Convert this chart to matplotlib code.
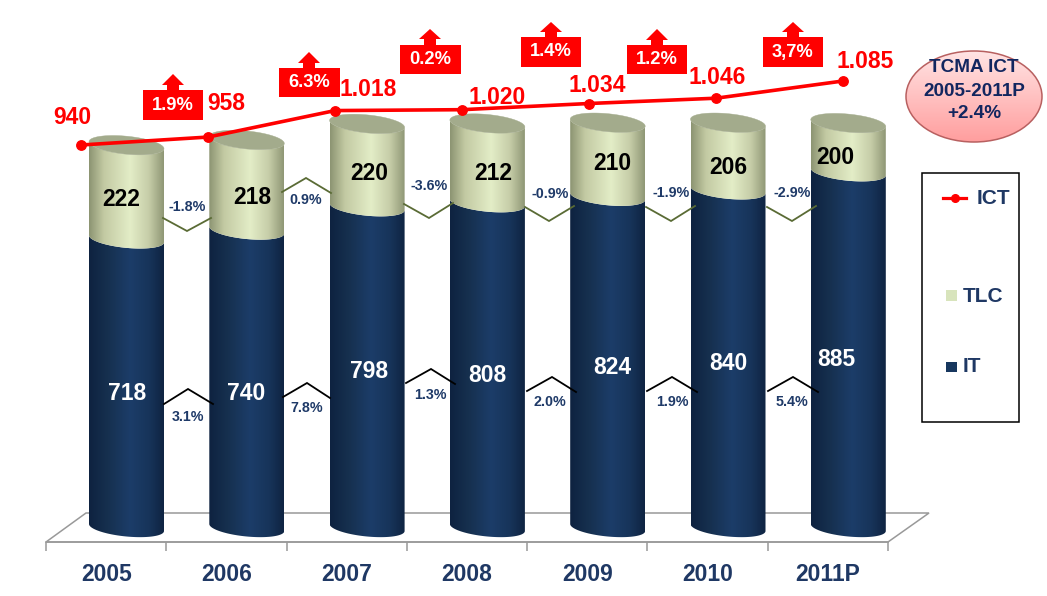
import numpy as np
import matplotlib
matplotlib.use("Agg")
import matplotlib.pyplot as plt
from matplotlib.colors import LinearSegmentedColormap
from matplotlib.patches import Polygon, Rectangle, Ellipse
from matplotlib.lines import Line2D

plt.rcParams['font.family'] = ['Liberation Sans', 'DejaVu Sans']
plt.rcParams['font.weight'] = 'bold'

# ---- data ----
years = ['2005', '2006', '2007', '2008', '2009', '2010', '2011P']
it_values = [718, 740, 798, 808, 824, 840, 885]
tlc_values = [222, 218, 220, 212, 210, 206, 200]
# height of the TLC band as actually drawn in the picture (not proportional to its label)
tlc_drawn = [233, 224, 206, 197, 183, 167, 121]
ict_values = [940, 958, 1018, 1020, 1034, 1046, 1085]
ict_labels = ['940', '958', '1.018', '1.020', '1.034', '1.046', '1.085']
ict_growth = ['1.9%', '6.3%', '0.2%', '1.4%', '1.2%', '3,7%']
tlc_growth = ['-1.8%', '0.9%', '-3.6%', '-0.9%', '-1.9%', '-2.9%']
it_growth = ['3.1%', '7.8%', '1.3%', '2.0%', '1.9%', '5.4%']

# ---- layout (pixels of the 1047x596 canvas) ----
W, H = 1047, 596
NAVY = '#1F3864'
LABEL = '#1F3A68'
RED = '#FF0000'

ict_pos = [(72, 117), (226, 104), (368, 90), (497, 97), (597, 85), (717, 77), (865, 62)]
tlc_pos = [(121, 200), (252, 197), (369, 173), (493, 174), (612, 164), (728, 167), (835, 157)]
it_pos = [(127, 393), (246, 393), (369, 372), (487, 375), (612, 368), (728, 364), (836, 359)]
boxes = [(143, 90, 203, 120, 173, 74, 85), (279, 68, 340, 97, 309, 52, 63),
         (400, 45, 461, 74, 430, 29, 39), (521, 37, 581, 67, 551, 22, 32),
         (627, 45, 687, 74, 657, 29, 40), (763, 37, 823, 67, 793, 22, 32)]
tlc_chev = [[(163, 218), (187, 231), (211, 218)], [(282, 192), (306, 178), (331, 193)],
            [(404, 204), (429, 218), (453, 203)], [(525, 207), (549, 221), (574, 206)],
            [(646, 207), (671, 221), (695, 206)], [(767, 207), (792, 221), (816, 206)]]
it_chev = [[(164, 404), (188, 389), (213, 404)], [(283, 397), (307, 383), (330, 398)],
           [(406, 383), (431, 369), (455, 384)], [(527, 391), (552, 377), (576, 392)],
           [(647, 391), (672, 377), (697, 392)], [(768, 391), (793, 377), (818, 392)]]
tlc_g_pos = [(187, 207), (306, 200), (429, 186), (550, 194), (671, 193), (792, 193)]
it_g_pos = [(188, 417), (307, 408), (430, 395), (550, 402), (672, 402), (792, 402)]

fig = plt.figure(figsize=(W / 100, H / 100), dpi=100, facecolor='white')


def full_axes(z):
    a = fig.add_axes([0, 0, 1, 1], zorder=z)
    a.patch.set_alpha(0)
    a.axis('off')
    return a


# annotation layer in pixel coordinates
ax_px = full_axes(4)
ax_px.set_xlim(0, W)
ax_px.set_ylim(H, 0)

# category axis with the perspective floor
ax_cat = fig.add_axes([46 / W, (H - 542) / H, (888 - 46) / W, 0.05], zorder=1)
ax_cat.patch.set_alpha(0)
for s in ('top', 'left', 'right'):
    ax_cat.spines[s].set_visible(False)
ax_cat.spines['bottom'].set_color('#999999')
ax_cat.spines['bottom'].set_linewidth(1.1)
ax_cat.set_xlim(-0.5, len(years) - 0.5)
ax_cat.set_yticks([])
ax_cat.set_xticks(range(len(years)))
ax_cat.set_xticklabels(years, fontsize=16.5, fontweight='bold', color=NAVY)
ax_cat.set_xticks(np.arange(-0.5, len(years)), minor=True)
ax_cat.tick_params(axis='x', which='major', length=0, pad=15)
ax_cat.tick_params(axis='x', which='minor', length=6.5, width=1.1, color='#999999')
ax_cat.add_patch(Polygon([(46, 542), (86, 513), (929, 513), (888, 542)], closed=True,
                         facecolor='white', edgecolor='#999999', lw=1.1,
                         transform=ax_px.transData, clip_on=False))

# stacked cylinders
ax_bar = full_axes(2)
X0, XSTEP = 126.5, 120.3
Y0, YSCALE = 527.5, 0.402
A = 37.5 / XSTEP
B = 9 / YSCALE
TILT = 3.5 / YSCALE
t = np.linspace(np.pi, 2 * np.pi, 60)


def lower_arc(x, y):
    return x + A * np.cos(t), y + B * np.sin(t) - TILT * np.cos(t) * -1 * -1


def upper_arc(x, y):
    return x + A * np.cos(t), y - B * np.sin(t) - TILT * np.cos(t)


def band(x, y0, y1, cmap, z):
    xa, ya = lower_arc(x, y0)
    xb, yb = lower_arc(x, y1)
    pts = np.column_stack([np.r_[xa, xb[::-1]], np.r_[ya, yb[::-1]]])
    poly = Polygon(pts, closed=True, facecolor='none', edgecolor='none', transform=ax_bar.transData)
    ax_bar.add_patch(poly)
    grad = np.linspace(0, 1, 256).reshape(1, -1)
    im = ax_bar.imshow(grad, extent=[x - A, x + A, y0 - 2 * B, y1 + 2 * B], aspect='auto',
                       cmap=cmap, origin='lower', zorder=z, interpolation='bilinear')
    im.set_clip_path(poly)


it_cmap = LinearSegmentedColormap.from_list('it', [(0, '#0E2240'), (0.25, '#16304F'), (0.55, '#1C3D69'),
                                                   (0.8, '#17345A'), (1, '#0F2442')])
tlc_cmap = LinearSegmentedColormap.from_list('tlc', [(0, '#8C9472'), (0.2, '#C3CAA3'), (0.55, '#E3EDC7'),
                                                     (0.8, '#C6CDA8'), (1, '#8F9775')])
for i, (it, tl) in enumerate(zip(it_values, tlc_drawn)):
    band(i, 0, it, it_cmap, 2)
    band(i, it, it + tl, tlc_cmap, 3)
    xa, ya = lower_arc(i, it + tl)
    xb, yb = upper_arc(i, it + tl)
    ax_bar.add_patch(Polygon(np.column_stack([np.r_[xa, xb[::-1]], np.r_[ya, yb[::-1]]]), closed=True,
                             facecolor='#A3AB8C', edgecolor='#A3AB8C', lw=0.3, zorder=4))
ax_bar.set_xlim(-X0 / XSTEP, (W - X0) / XSTEP)
ax_bar.set_ylim((Y0 - H) / YSCALE, Y0 / YSCALE)

# ICT line on its own scale
ax_line = full_axes(3)
ax_line.plot(range(len(ict_values)), ict_values, color=RED, lw=2.6, marker='o', ms=6.8,
             solid_capstyle='round')
LX0, LXSTEP = 81, 127
LY0, LYSCALE = 145, 0.4414
ax_line.set_xlim(-LX0 / LXSTEP, (W - LX0) / LXSTEP)
ax_line.set_ylim(940 - (H - LY0) / LYSCALE, 940 + LY0 / LYSCALE)
for s, (x, y) in zip(ict_labels, ict_pos):
    ax_line.text(x, y, s, transform=ax_px.transData, color=RED, fontsize=16.5, fontweight='bold',
                 ha='center', va='center', zorder=6)

# stacked-bar value labels
for v, (x, y) in zip(tlc_values, tlc_pos):
    ax_px.text(x, y, str(v), color='black', fontsize=16.5, fontweight='bold', ha='center', va='center')
for v, (x, y) in zip(it_values, it_pos):
    ax_px.text(x, y, str(v), color='white', fontsize=16.5, fontweight='bold', ha='center', va='center')

# growth chevrons
for c in tlc_chev:
    ax_px.plot(*zip(*c), color='#5A6B35', lw=1.3, solid_joinstyle='miter')
for c in it_chev:
    ax_px.plot(*zip(*c), color='black', lw=1.3, solid_joinstyle='miter')
for s, (x, y) in zip(tlc_growth, tlc_g_pos):
    ax_px.text(x, y, s, color=LABEL, fontsize=10.3, fontweight='bold', ha='center', va='center')
for s, (x, y) in zip(it_growth, it_g_pos):
    ax_px.text(x, y, s, color=LABEL, fontsize=10.3, fontweight='bold', ha='center', va='center')

# red growth boxes with arrows
for s, (x0, y0, x1, y1, tx, ty, hb) in zip(ict_growth, boxes):
    ax_px.add_patch(Rectangle((x0, y0), x1 - x0, y1 - y0, facecolor=RED, edgecolor='none', zorder=5))
    ax_px.add_patch(Polygon([(tx, ty), (tx + 11, hb), (tx + 6, hb), (tx + 6, y0), (tx - 6, y0),
                             (tx - 6, hb), (tx - 11, hb)], closed=True, facecolor=RED,
                            edgecolor='none', zorder=5))
    ax_px.text((x0 + x1) / 2, (y0 + y1) / 2, s, color='white', fontsize=13.2, fontweight='bold',
               ha='center', va='center', zorder=6)

# CAGR bubble
bubble = Ellipse((974, 96.5), 136, 91, facecolor='none', edgecolor='#B86060', lw=1.1, zorder=5)
ax_px.add_patch(bubble)
bg = LinearSegmentedColormap.from_list('b', ['#FFE4E4', '#FF9E9E'])
im = ax_px.imshow(np.linspace(0, 1, 128).reshape(-1, 1), extent=[906, 1042, 142, 51], aspect='auto',
                  cmap=bg, zorder=4)
clip = Ellipse((974, 96.5), 136, 91, transform=ax_px.transData)
im.set_clip_path(clip)
ax_px.set_xlim(0, W)
ax_px.set_ylim(H, 0)
for s, y in zip(['TCMA ICT', '2005-2011P', '+2.4%'], [68, 92, 114]):
    ax_px.text(974, y, s, color='#12265F', fontsize=13.6, fontweight='bold', ha='center', va='center', zorder=6)

# legend
ax_px.add_patch(Rectangle((922, 173), 97, 249, facecolor='white', edgecolor='black', lw=1.1, zorder=3))
ax_px.add_line(Line2D([943, 966], [198, 198], color=RED, lw=2.3, zorder=6))
ax_px.add_line(Line2D([955], [198], color=RED, marker='o', ms=5.5, zorder=6))
ax_px.text(977, 198, 'ICT', color=NAVY, fontsize=15, fontweight='bold', ha='left', va='center', zorder=6)
ax_px.add_patch(Rectangle((946, 290), 11, 11, facecolor='#D8E4BC', edgecolor='none', zorder=6))
ax_px.text(963, 296, 'TLC', color=NAVY, fontsize=15, fontweight='bold', ha='left', va='center', zorder=6)
ax_px.add_patch(Rectangle((946, 362), 11, 10, facecolor='#17375E', edgecolor='none', zorder=6))
ax_px.text(963, 367, 'IT', color=NAVY, fontsize=15, fontweight='bold', ha='left', va='center', zorder=6)

fig.savefig('out.png', dpi=100, facecolor='white')
